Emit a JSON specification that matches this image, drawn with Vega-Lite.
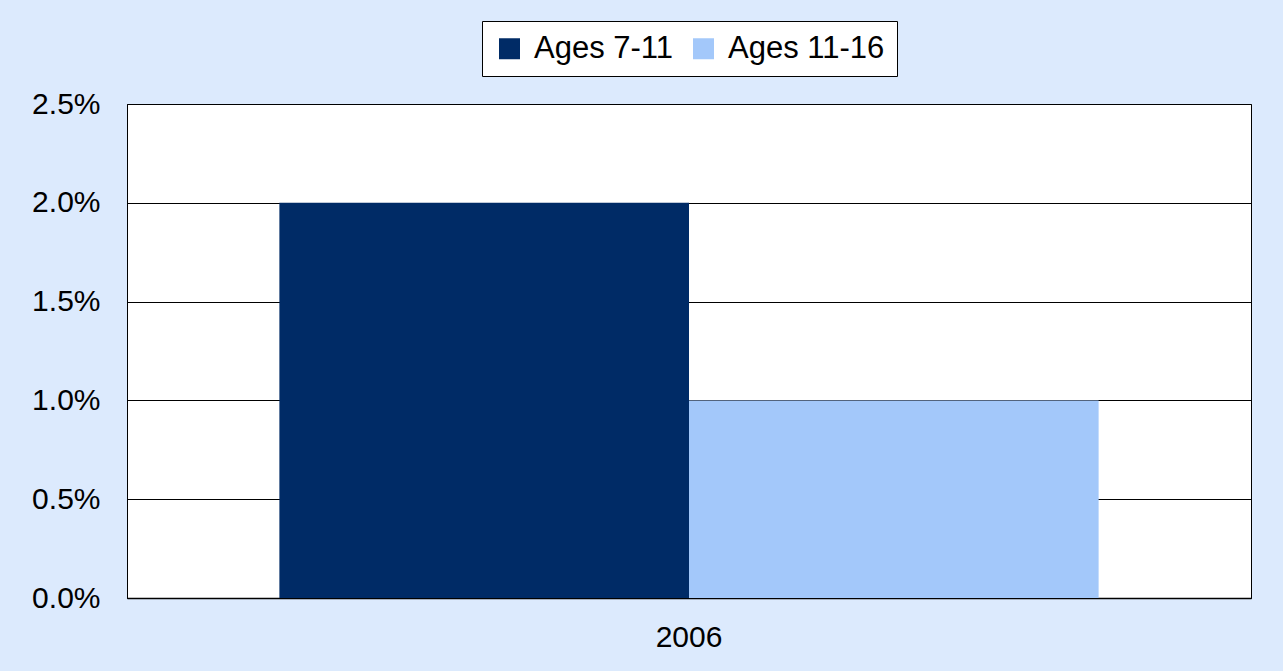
{
  "$schema": "https://vega.github.io/schema/vega-lite/v6.json",
  "autosize": {"type": "none"},
  "width": 1124,
  "height": 494,
  "padding": {"left": 127, "top": 104, "right": 32, "bottom": 73},
  "background": "#DCEAFD",
  "data": {
    "values": [
      {"year": "2006", "series": "Ages 7-11", "value": 0.02},
      {"year": "2006", "series": "Ages 11-16", "value": 0.01}
    ]
  },
  "mark": {"type": "bar"},
  "encoding": {
    "x": {
      "field": "year",
      "type": "nominal",
      "scale": {"paddingInner": 0, "paddingOuter": 0.186},
      "axis": {
        "title": null,
        "labelAngle": 0,
        "labelFont": "Liberation Sans",
        "labelFontSize": 30,
        "labelColor": "#000000",
        "labelPadding": 24,
        "ticks": false,
        "domainColor": "#000000",
        "domainWidth": 1.5
      }
    },
    "xOffset": {
      "field": "series",
      "type": "nominal",
      "sort": ["Ages 7-11", "Ages 11-16"],
      "scale": {"paddingInner": 0, "paddingOuter": 0}
    },
    "y": {
      "field": "value",
      "type": "quantitative",
      "scale": {"domain": [0, 0.025], "nice": false},
      "axis": {
        "title": null,
        "format": ".1%",
        "values": [0, 0.005, 0.01, 0.015, 0.02, 0.025],
        "labelFont": "Liberation Sans",
        "labelFontSize": 30,
        "labelColor": "#000000",
        "tickSize": 0,
        "labelPadding": 27,
        "domainColor": "#000000",
        "gridColor": "#000000",
        "gridWidth": 1,
        "gridOpacity": 1
      }
    },
    "color": {
      "field": "series",
      "type": "nominal",
      "sort": ["Ages 7-11", "Ages 11-16"],
      "scale": {"domain": ["Ages 7-11", "Ages 11-16"], "range": ["#002B66", "#A3C8FA"]},
      "legend": {
        "title": null,
        "orient": "none",
        "direction": "horizontal",
        "legendX": 355,
        "legendY": -83,
        "symbolType": "square",
        "symbolSize": 441,
        "symbolStrokeWidth": 0,
        "labelFont": "Liberation Sans",
        "labelFontSize": 31,
        "labelColor": "#000000",
        "labelOffset": 9,
        "columnPadding": 14,
        "padding": 12,
        "strokeColor": "#000000",
        "fillColor": "#FFFFFF"
      }
    }
  },
  "config": {
    "view": {"stroke": "#000000", "strokeWidth": 1, "fill": "#FFFFFF"},
    "axis": {"domainWidth": 1}
  }
}
